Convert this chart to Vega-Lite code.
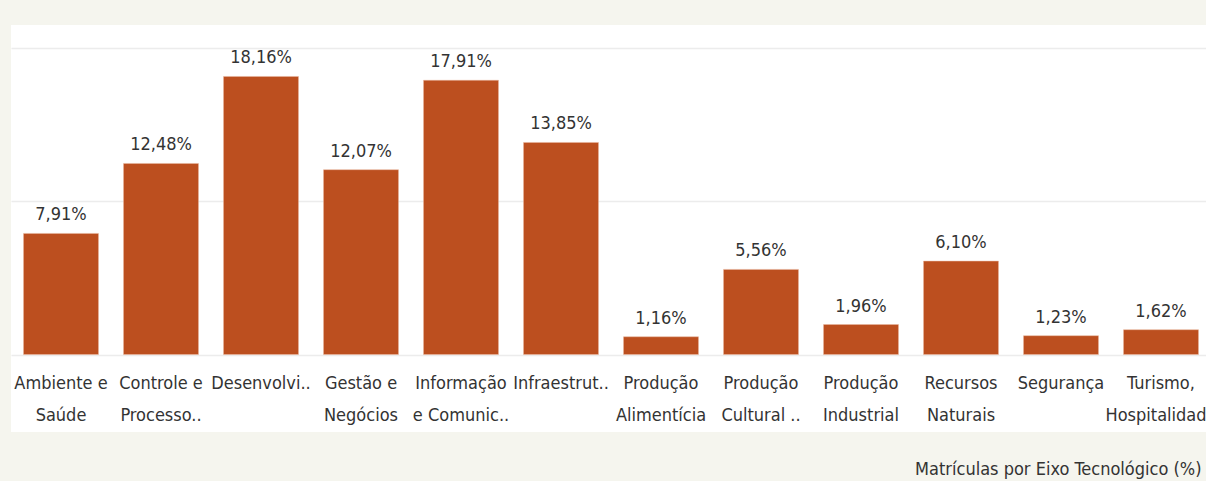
{
  "$schema": "https://vega.github.io/schema/vega-lite/v6.json",
  "autosize": {"type": "none"},
  "width": 1195,
  "height": 407,
  "padding": {"left": 11, "top": 25, "right": 0, "bottom": 49},
  "background": "#f5f5ee",
  "config": {
    "view": {"fill": "#ffffff", "stroke": null},
    "font": "DejaVu Sans Condensed",
    "locale": {"number": {"decimal": ",", "thousands": ".", "grouping": [3], "currency": ["", ""]}}
  },
  "data": {
    "values": [
      {"eixo": "Ambiente e|Saúde", "pct": 0.0791},
      {"eixo": "Controle e|Processo..", "pct": 0.1248},
      {"eixo": "Desenvolvi..", "pct": 0.1816},
      {"eixo": "Gestão e|Negócios", "pct": 0.1207},
      {"eixo": "Informação|e Comunic..", "pct": 0.1791},
      {"eixo": "Infraestrut..", "pct": 0.1385},
      {"eixo": "Produção|Alimentícia", "pct": 0.0116},
      {"eixo": "Produção|Cultural ..", "pct": 0.0556},
      {"eixo": "Produção|Industrial", "pct": 0.0196},
      {"eixo": "Recursos|Naturais", "pct": 0.061},
      {"eixo": "Segurança", "pct": 0.0123},
      {"eixo": "Turismo,|Hospitalidade", "pct": 0.0162}
    ]
  },
  "encoding": {
    "x": {
      "field": "eixo",
      "type": "nominal",
      "sort": null,
      "scale": {"range": [0, 1200], "paddingInner": 0.25, "paddingOuter": 0.125},
      "axis": {
        "title": "Matrículas por Eixo Tecnológico (%)",
        "titleFont": "DejaVu Sans Condensed",
        "titleFontSize": 18,
        "titleFontWeight": "normal",
        "titleColor": "#333333",
        "titleAlign": "right",
        "titleAnchor": "end",
        "titleX": 1190,
        "titleY": 28,
        "titleBaseline": "top",
        "labelExpr": "split(datum.label, '|')",
        "labelAngle": 0,
        "labelFontSize": 18,
        "labelColor": "#333333",
        "labelBaseline": "top",
        "labelLineHeight": 32,
        "labelPadding": -58,
        "labelOverlap": false,
        "labelLimit": 0,
        "labelBound": false,
        "labelFlush": false,
        "ticks": false,
        "domain": false,
        "grid": false
      }
    },
    "y": {
      "field": "pct",
      "type": "quantitative",
      "scale": {"domain": [-0.0506, 0.2152], "nice": false, "zero": false},
      "axis": {
        "values": [0, 0.1, 0.2],
        "grid": true,
        "gridColor": "#ececec",
        "gridWidth": 1.5,
        "labels": false,
        "ticks": false,
        "domain": false,
        "title": null
      }
    }
  },
  "layer": [
    {
      "mark": {"type": "bar", "color": "#bc4f1f", "stroke": "#e8b9a0", "strokeWidth": 0.5},
      "encoding": {"y2": {"datum": 0}}
    },
    {
      "mark": {"type": "text", "dy": -13, "baseline": "alphabetic", "fontSize": 18, "color": "#333333"},
      "encoding": {"text": {"field": "pct", "type": "quantitative", "format": ".2%"}}
    }
  ]
}
